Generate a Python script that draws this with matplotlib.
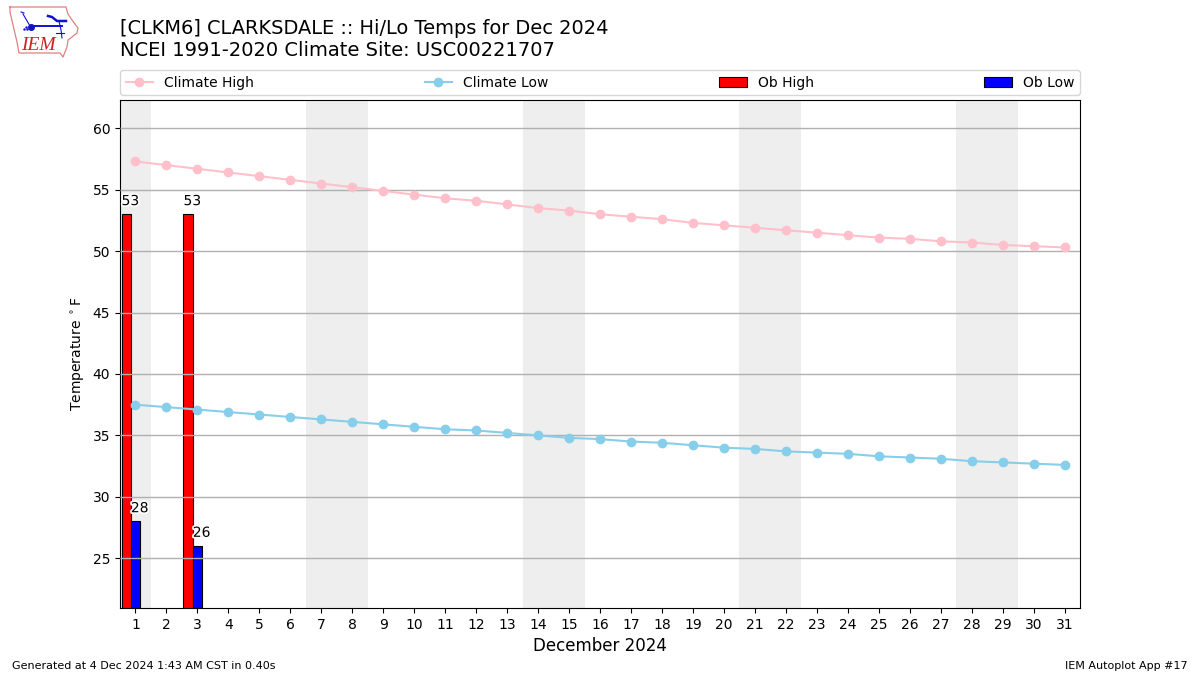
import matplotlib
matplotlib.use("Agg")
import matplotlib.pyplot as plt
import matplotlib.patheffects as pe
import numpy as np

days = list(range(1, 32))
climate_high = [57.3,57.0,56.7,56.4,56.1,55.8,55.5,55.2,54.9,54.6,54.3,54.1,53.8,53.5,53.3,53.0,
                52.8,52.6,52.3,52.1,51.9,51.7,51.5,51.3,51.1,51.0,50.8,50.7,50.5,50.4,50.3]
climate_low = [37.5,37.3,37.1,36.9,36.7,36.5,36.3,36.1,35.9,35.7,35.5,35.4,35.2,35.0,34.8,34.7,
               34.5,34.4,34.2,34.0,33.9,33.7,33.6,33.5,33.3,33.2,33.1,32.9,32.8,32.7,32.6]
ob_days = [1, 3]
ob_high = [53, 53]
ob_low = [28, 26]
weekend_spans = [(0.5,1.5),(6.5,8.5),(13.5,15.5),(20.5,22.5),(27.5,29.5)]

W, H = 1200, 675
fig = plt.figure(figsize=(12, 6.75), dpi=100)
ax = fig.add_axes([120/W, 1-608/H, 960/W, 508/H])

for a, b in weekend_spans:
    ax.axvspan(a, b, color="#eeeeee", lw=0, zorder=0)
ax.grid(axis="y", color="#b0b0b0", lw=1, zorder=2.5)
ax.set_axisbelow(False)

ax.plot(days, climate_high, "-o", color="pink", ms=6, lw=1.5, label="Climate High", zorder=4)
ax.plot(days, climate_low, "-o", color="skyblue", ms=6, lw=1.5, label="Climate Low", zorder=4)
od = np.array(ob_days, float)
ax.bar(od-0.3, ob_high, width=0.3, align="center", color="red", edgecolor="k", lw=0.8, label="Ob High", zorder=2)
ax.bar(od, ob_low, width=0.3, align="center", color="blue", edgecolor="k", lw=0.8, label="Ob Low", zorder=2)
halo = [pe.withStroke(linewidth=2.5, foreground="white")]
for d, h, l in zip(od, ob_high, ob_low):
    ax.text(d-0.45, h+0.5, str(h), ha="left", va="bottom", fontsize=10, zorder=5, path_effects=halo)
    ax.text(d-0.15, l+0.5, str(l), ha="left", va="bottom", fontsize=10, zorder=5, path_effects=halo)

ax.set_xlim(0.5, 31.5)
ax.set_ylim(20.95, 62.3)
ax.set_xticks(days)
ax.set_yticks(range(25, 61, 5))
ax.tick_params(labelsize=10)
ax.set_xlabel("December 2024", fontsize=12)
ax.set_ylabel(r"Temperature $^\circ$F", fontsize=10)
ax.legend(loc="lower left", bbox_to_anchor=(0, 1.0095, 1, 0.05), ncol=4, mode="expand",
          fontsize=10, borderaxespad=0)

fig.text(120/W, 1-29/H, "[CLKM6] CLARKSDALE :: Hi/Lo Temps for Dec 2024", fontsize=13.97, va="center")
fig.text(120/W, 1-51/H, "NCEI 1991-2020 Climate Site: USC00221707", fontsize=14, va="center")
fig.text(12/W, 1-666/H, "Generated at 4 Dec 2024 1:43 AM CST in 0.40s", fontsize=8, va="center")
fig.text(1188/W, 1-666/H, "IEM Autoplot App #17", fontsize=8, va="center", ha="right")

# IEM logo
logo = fig.add_axes([0, 1-60/H, 90/W, 60/H])
logo.set_xlim(0, 90); logo.set_ylim(60, 0); logo.axis("off")
outline_x = [10,66,68,72,78,77,72,68,67,65,63,60,19,17,13,10,10]
outline_y = [7,7,14,20,28,33,37,40,47,52,57,53,53,42,25,12,7]
logo.plot(outline_x, outline_y, color="#e08080", lw=0.9)
logo.plot([30,62], [26,26], color="#1010d0", lw=1.4)
logo.plot([48,52,57,66],[16,17,21,21], color="#1010d0", lw=1.8)
logo.plot([31],[27], "o", color="#1010d0", ms=4)
logo.plot([23,30],[14,26], color="#1010d0", lw=0.8)
logo.plot([21,24],[12,13], color="#1010d0", lw=0.8)
logo.plot([59,61,62],[21,30,38], color="#1010d0", lw=0.8)
logo.plot([56,64],[33,33], color="#1010d0", lw=0.8)
logo.plot([24,26,27],[29,27,29], ".", color="#1010d0", ms=1.5)
logo.text(21, 46, "IEM", color="#d02020", family="Liberation Serif", style="italic", fontsize=14, va="center")

fig.savefig("out.png", dpi=100)
